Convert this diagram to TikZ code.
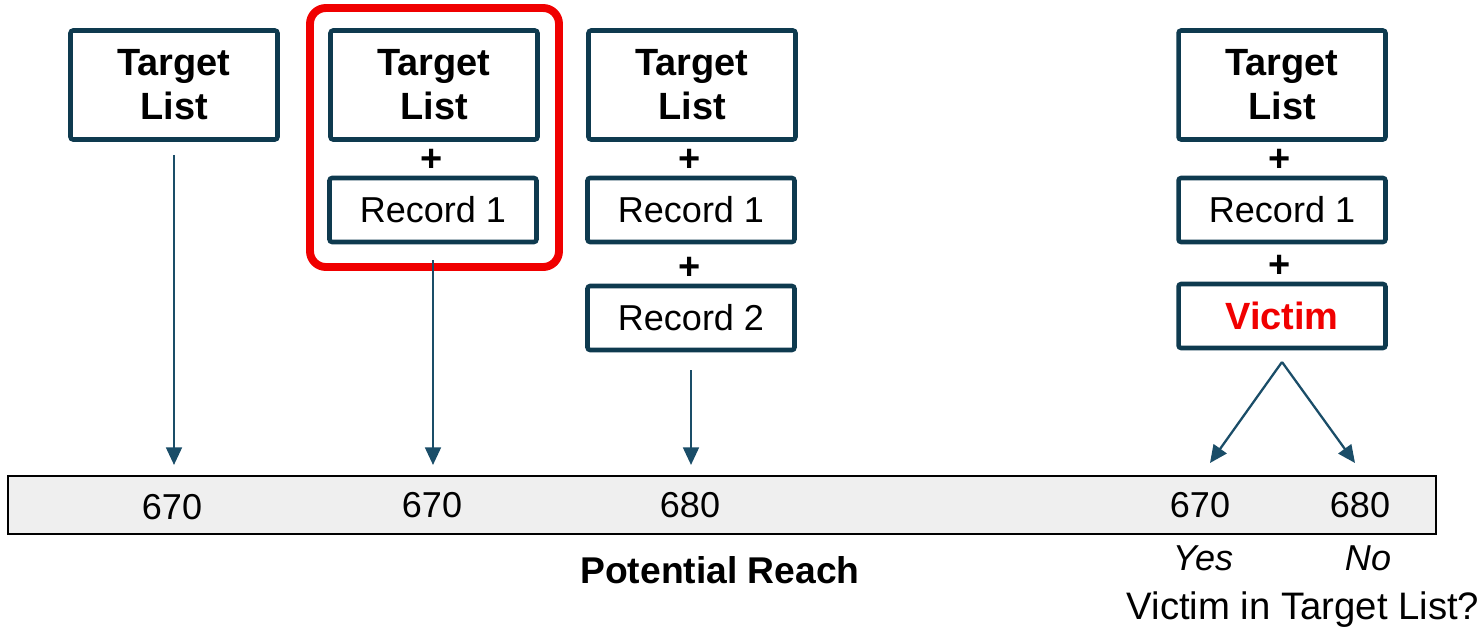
\documentclass[tikz,border=0pt]{standalone}
\usepackage{fontspec}
\setmainfont{Liberation Sans}
\usepackage{xcolor}
\definecolor{boxTeal}{HTML}{0E3A4F}
\definecolor{flowTeal}{HTML}{1A4D68}
\definecolor{hiRed}{HTML}{F00000}
\definecolor{barGray}{HTML}{EFEFEF}
\usetikzlibrary{arrows.meta}

\begin{document}
\begin{tikzpicture}[x=0.02cm, y=-0.02cm,
  every node/.style={font=\fontsize{20.5}{25}\selectfont},
  tlbox/.style={draw=boxTeal, line width=2.6pt, rounded corners=1.5pt,
    minimum width=4.14cm, minimum height=2.18cm, align=center,
    font=\fontsize{21.6}{25}\selectfont\bfseries},
  recbox/.style={draw=boxTeal, line width=2.6pt, rounded corners=1.5pt,
    minimum width=4.14cm, minimum height=1.28cm},
  plus/.style={font=\fontsize{21.6}{25}\selectfont\bfseries},
  flow/.style={-{Triangle[length=10pt,width=9pt]}, flowTeal, line width=1.3pt},
]
\useasboundingbox (0,0) rectangle (1480,633);
% ---------- the target lists, one per column ----------
\foreach \x/\n in {174/1,434/2,692/3,1282/4} {
  \node[tlbox] (tl\n) at (\x,85) {Target\\List};
}
% ---------- what is added below them ----------
\node[plus] (plus2a) at (432,160) {+};
\node[recbox] (rec2) at (433,210) {Record 1};
\node[plus] (plus3a) at (690,160) {+};
\node[recbox] (rec3a) at (691,210) {Record 1};
\node[plus] (plus3b) at (690,268) {+};
\node[recbox] (rec3b) at (691,318) {Record 2};
\node[plus] (plus4a) at (1280,160) {+};
\node[recbox] (rec4) at (1282,210) {Record 1};
\node[plus] (plus4b) at (1280,266) {+};
\node[recbox, text=hiRed, font=\fontsize{21.6}{25}\selectfont\bfseries]
  (vic) at (1282,316) {Victim};
% the highlighted column
\draw[hiRed, line width=4.5pt, rounded corners=9pt] (310,8) rectangle (559,267);
% ---------- the reach bar ----------
\node[draw=black, fill=barGray, line width=1.2pt, minimum width=28.56cm,
  minimum height=1.16cm] (bar) at (722,505) {};
\node (n1) at (172,507) {670};
\node (n2) at (432,505) {670};
\node (n3) at (690,505) {680};
\node (n4) at (1200,505) {670};
\node (n5) at (1360,505) {680};
% ---------- arrows down to the bar ----------
\draw[flow, shorten <=0.26cm, shorten >=0.2cm] (tl1.south) -- (tl1.south |- bar.north);
\draw[flow, shorten <=0.32cm, shorten >=0.2cm] (rec2.south) -- (rec2.south |- bar.north);
\draw[flow, shorten <=0.36cm, shorten >=0.2cm] (rec3b.south) -- (rec3b.south |- bar.north);
\coordinate (split) at (1282,362);
\coordinate (yesEnd) at (1210,463);
\coordinate (noEnd) at (1355,463);
\draw[flow] (split) -- (yesEnd);
\draw[flow] (split) -- (noEnd);
% ---------- labels under the bar ----------
\node[font=\fontsize{21.2}{25}\selectfont\bfseries] (reach) at (720,570) {Potential Reach};
\node[font=\fontsize{20.5}{25}\selectfont\itshape] (yes) at (1203,558) {Yes};
\node[font=\fontsize{20.5}{25}\selectfont\itshape] (no) at (1368,558) {No};
\node[font=\fontsize{21.8}{25}\selectfont] (question) at (1303,610) {Victim in Target List?};
\end{tikzpicture}
\end{document}
